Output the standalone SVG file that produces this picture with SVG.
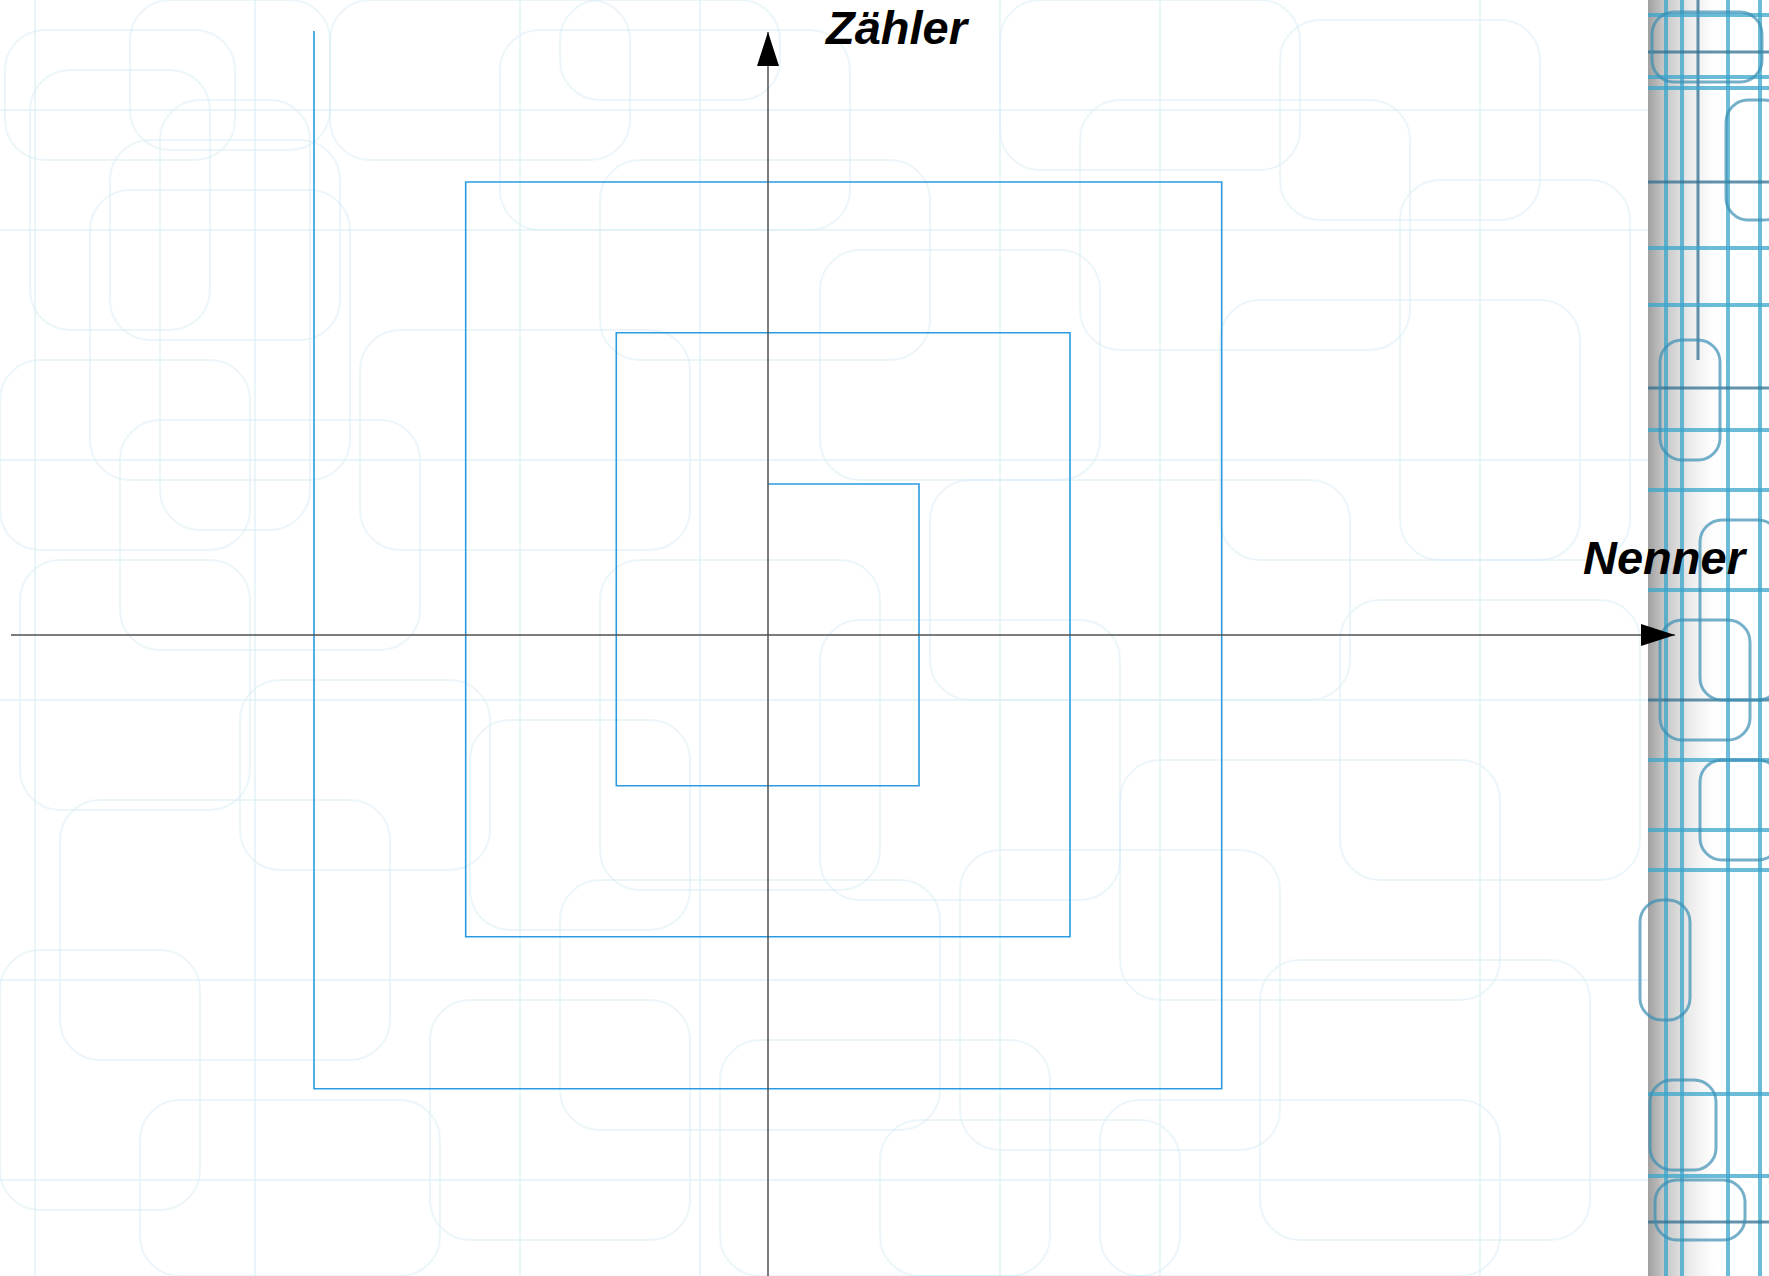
<svg xmlns="http://www.w3.org/2000/svg" width="1769" height="1276" viewBox="0 0 1769 1276">
<defs>
<style>
.bg rect{fill:none;stroke:#cfe8f3;stroke-width:2;opacity:0.4}
.bg line{stroke:#d6edf6;stroke-width:2;opacity:0.5}
.st line{stroke:#3aa6cc;stroke-width:4;opacity:0.75}
.st .d{stroke:#2f6f8f;stroke-width:3}
.st rect{fill:none;stroke:#3a8fb3;stroke-width:3;opacity:0.7}
.axis{stroke:#505050;stroke-width:1.5;fill:none}
.spiral{stroke:#2a9be0;stroke-width:1.6;fill:none}
.lbl{font-family:"Liberation Sans",Arial,sans-serif;font-weight:bold;font-style:italic;font-size:47px;fill:#000}
</style>
<linearGradient id="shade" x1="0" y1="0" x2="1" y2="0">
<stop offset="0" stop-color="#a0a0a0"/>
<stop offset="0.12" stop-color="#c4c4c4"/>
<stop offset="0.35" stop-color="#ececec"/>
<stop offset="0.55" stop-color="#ffffff"/>
<stop offset="1" stop-color="#ffffff"/>
</linearGradient>
<marker id="arr" viewBox="0 0 34 22" refX="34" refY="11" markerWidth="34" markerHeight="22" markerUnits="userSpaceOnUse" orient="auto">
<path d="M0,0 L34,11 L0,22 Z" fill="#000"/>
</marker>
</defs>
<rect width="1769" height="1276" fill="#ffffff"/>
<g class="bg">
<rect x="5" y="30" width="230" height="130" rx="40"/>
<rect x="30" y="70" width="180" height="260" rx="40"/>
<rect x="130" y="0" width="200" height="150" rx="40"/>
<rect x="110" y="140" width="230" height="200" rx="40"/>
<rect x="160" y="100" width="150" height="430" rx="40"/>
<rect x="0" y="360" width="250" height="190" rx="40"/>
<rect x="90" y="190" width="260" height="290" rx="40"/>
<rect x="330" y="0" width="300" height="160" rx="40"/>
<rect x="500" y="30" width="350" height="200" rx="40"/>
<rect x="560" y="0" width="220" height="100" rx="40"/>
<rect x="120" y="420" width="300" height="230" rx="40"/>
<rect x="20" y="560" width="230" height="250" rx="40"/>
<rect x="240" y="680" width="250" height="190" rx="40"/>
<rect x="60" y="800" width="330" height="260" rx="40"/>
<rect x="0" y="950" width="200" height="260" rx="40"/>
<rect x="140" y="1100" width="300" height="176" rx="40"/>
<rect x="430" y="1000" width="260" height="240" rx="40"/>
<rect x="560" y="880" width="380" height="250" rx="40"/>
<rect x="720" y="1040" width="330" height="236" rx="40"/>
<rect x="360" y="330" width="330" height="220" rx="40"/>
<rect x="600" y="160" width="330" height="200" rx="40"/>
<rect x="820" y="250" width="280" height="230" rx="40"/>
<rect x="930" y="480" width="420" height="220" rx="40"/>
<rect x="1000" y="0" width="300" height="170" rx="40"/>
<rect x="1080" y="100" width="330" height="250" rx="40"/>
<rect x="1280" y="20" width="260" height="200" rx="40"/>
<rect x="1220" y="300" width="360" height="260" rx="40"/>
<rect x="1400" y="180" width="230" height="380" rx="40"/>
<rect x="1340" y="600" width="300" height="280" rx="40"/>
<rect x="1120" y="760" width="380" height="240" rx="40"/>
<rect x="1260" y="960" width="330" height="280" rx="40"/>
<rect x="960" y="850" width="320" height="300" rx="40"/>
<rect x="820" y="620" width="300" height="280" rx="40"/>
<rect x="600" y="560" width="280" height="330" rx="40"/>
<rect x="470" y="720" width="220" height="210" rx="40"/>
<rect x="1100" y="1100" width="400" height="176" rx="40"/>
<rect x="880" y="1120" width="300" height="156" rx="40"/>
<line x1="0" y1="110" x2="1648" y2="110"/>
<line x1="0" y1="230" x2="1648" y2="230"/>
<line x1="0" y1="460" x2="1648" y2="460"/>
<line x1="0" y1="700" x2="1648" y2="700"/>
<line x1="0" y1="980" x2="1648" y2="980"/>
<line x1="0" y1="1180" x2="1648" y2="1180"/>
<line x1="35" y1="0" x2="35" y2="1276"/>
<line x1="255" y1="0" x2="255" y2="1276"/>
<line x1="520" y1="0" x2="520" y2="1276"/>
<line x1="700" y1="0" x2="700" y2="1276"/>
<line x1="1000" y1="0" x2="1000" y2="1276"/>
<line x1="1160" y1="0" x2="1160" y2="1276"/>
<line x1="1480" y1="0" x2="1480" y2="1276"/>
</g>
<g id="strip">
<rect x="1648" y="0" width="121" height="1276" fill="url(#shade)"/>
<g class="st">
<line x1="1666" y1="0" x2="1666" y2="1276"/>
<line x1="1682" y1="0" x2="1682" y2="1276"/>
<line x1="1728" y1="0" x2="1728" y2="1276"/>
<line x1="1760" y1="0" x2="1760" y2="1276"/>
<line class="d" x1="1698" y1="0" x2="1698" y2="360"/>
<line x1="1648" y1="15" x2="1769" y2="15"/>
<line class="d" x1="1648" y1="52" x2="1769" y2="52"/>
<line x1="1648" y1="77" x2="1769" y2="77"/>
<line x1="1648" y1="88" x2="1769" y2="88"/>
<line class="d" x1="1648" y1="182" x2="1769" y2="182"/>
<line x1="1648" y1="248" x2="1769" y2="248"/>
<line class="d" x1="1648" y1="388" x2="1769" y2="388"/>
<line x1="1648" y1="305" x2="1769" y2="305"/>
<line x1="1648" y1="430" x2="1769" y2="430"/>
<line x1="1648" y1="490" x2="1769" y2="490"/>
<line x1="1648" y1="590" x2="1769" y2="590"/>
<line class="d" x1="1648" y1="700" x2="1769" y2="700"/>
<line x1="1648" y1="760" x2="1769" y2="760"/>
<line x1="1648" y1="830" x2="1769" y2="830"/>
<line x1="1648" y1="870" x2="1769" y2="870"/>
<line x1="1648" y1="1094" x2="1769" y2="1094"/>
<line x1="1648" y1="1176" x2="1769" y2="1176"/>
<line class="d" x1="1648" y1="1222" x2="1769" y2="1222"/>
<rect x="1652" y="12" width="110" height="70" rx="22"/>
<rect x="1726" y="100" width="60" height="120" rx="22"/>
<rect x="1660" y="340" width="60" height="120" rx="22"/>
<rect x="1700" y="520" width="80" height="180" rx="22"/>
<rect x="1660" y="620" width="90" height="120" rx="22"/>
<rect x="1700" y="760" width="80" height="100" rx="22"/>
<rect x="1640" y="900" width="50" height="120" rx="22"/>
<rect x="1650" y="1080" width="66" height="90" rx="22"/>
<rect x="1655" y="1180" width="90" height="60" rx="22"/>
</g>
</g>
<g id="connectors">
<path id="spiral" class="spiral" d="M767.7,484 H919 V785.7 H616.3 V332.7 H1070 V936.7 H465.7 V182 H1221.7 V1088.7 H314 V31"/>
<line id="y-axis" class="axis" x1="768" y1="1276" x2="768" y2="32" marker-end="url(#arr)"/>
<line id="x-axis" class="axis" x1="11" y1="635" x2="1675" y2="635" marker-end="url(#arr)"/>
</g>
<g id="label-zaehler"><text class="lbl" x="826" y="44">Zähler</text></g>
<g id="label-nenner"><text class="lbl" x="1583" y="574">Nenner</text></g>
</svg>
